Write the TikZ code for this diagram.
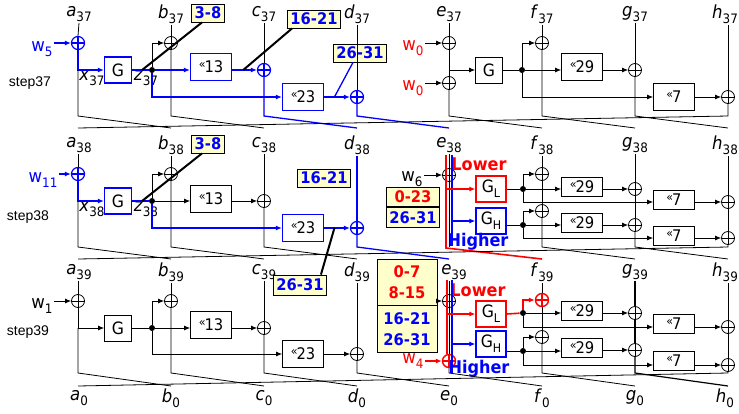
\documentclass[tikz,border=0pt]{standalone}
\usepackage{fontspec}
\setmainfont[FakeStretch=0.92]{DejaVu Sans}
\newfontfamily\stepfont{Liberation Sans}
\usetikzlibrary{arrows.meta,calc}
\definecolor{wblue}{HTML}{0000FF}
\definecolor{wred}{HTML}{FF0000}
\definecolor{tagfill}{HTML}{FFFFCC}
\newcommand{\regname}[2]{\textit{#1}\raisebox{-5pt}{\fontsize{13}{13}\selectfont #2}}
\newcommand{\wname}[1]{w\raisebox{-5pt}{\fontsize{13}{13}\selectfont #1}}
\newcommand{\rotl}[1]{\raisebox{4.5pt}{\fontsize{12}{12}\selectfont «}\kern-1pt#1}
\newcommand{\gname}[1]{G\raisebox{-5pt}{\fontsize{12}{12}\selectfont #1}}
\tikzset{
  xorop/.style={circle, draw=#1, minimum size=13pt, inner sep=0pt,
    path picture={\draw[#1] (path picture bounding box.north) -- (path picture bounding box.south)
      (path picture bounding box.west) -- (path picture bounding box.east);}},
  xorop/.default=black,
  fbox/.style={draw=#1, minimum width=27pt, minimum height=26pt, inner sep=0pt,
    font=\fontsize{17}{17}\selectfont},
  fbox/.default=black,
  halfbox/.style={draw=#1, line width=1.3pt, minimum width=30pt, minimum height=26pt,
    inner sep=0pt, font=\fontsize{17}{17}\selectfont},
  rotbox/.style={draw=#1, minimum width=41pt, minimum height=27pt, inner sep=0pt,
    font=\fontsize{16}{16}\selectfont},
  rotbox/.default=black,
  slim/.style={minimum height=19pt},
  joint/.style={circle, fill=#1, inner sep=0pt, minimum size=6pt},
  joint/.default=black,
  arr/.style={-{Latex[length=6pt,width=5pt]}},
  tag/.style={draw, fill=tagfill, text=wblue, font=\bfseries\fontsize{16}{21}\selectfont,
    inner xsep=3pt, inner ysep=0pt, minimum height=18pt},
  ptr/.style={line width=2pt},
  collab/.style={font=\fontsize{18}{18}\selectfont, inner sep=1pt},
  wlab/.style={font=\fontsize{18}{18}\selectfont, inner sep=1pt},
  steplab/.style={font=\stepfont\fontsize{14}{14}\selectfont},
  blu/.style={draw=wblue, line width=1.3pt},
  rd/.style={draw=wred, line width=1.6pt},
  half/.style={font=\bfseries\fontsize{17.5}{17.5}\selectfont, inner sep=0pt},
}
\begin{document}
\begin{tikzpicture}[x=1pt, y=-1pt, line width=0.8pt]
\useasboundingbox (0,0) rectangle (739,413);
% register columns, bottoms of each step and the ends of the rotation
\foreach \c/\x/\lx in {a/78/79,b/171/171,c/264/264,d/357/357,e/449/449,f/542/542,g/635/635,h/728/725} {
  \node[collab] (\c37) at (\lx,14) {\regname{\c}{37}};
  \node[collab] (\c38) at (\lx,145) {\regname{\c}{38}};
  \node[collab] (\c0) at (\lx,398) {\regname{\c}{0}};
  \coordinate (\c37b) at (\x,116);
  \coordinate (\c38s) at (\x,128);
  \coordinate (\c38b) at (\x,247);
  \coordinate (\c39s) at (\x,259);
  \coordinate (\c39b) at (\x,373);
  \coordinate (\c0s) at (\x,386);
}
\foreach \c/\lx in {a/79,b/171,c/264,d/357,f/542,g/635,h/725}
  \node[collab] (\c39) at (\lx,272) {\regname{\c}{39}};

% ---- step 37 ----
\node[steplab] (s37) at (30,83) {step37};
\node[wlab, text=wblue] (w5) at (42,49) {\wname{5}};
\node[xorop=wblue, line width=1.2pt] (xa37) at (78,43) {};
\node[fbox=wblue, line width=1.2pt] (gfun37) at (118,70) {G};
\node[collab] (x37) at (92,78) {\regname{x}{37}};
\node[collab] (z37) at (146,78) {\regname{z}{37}};
\node[joint] (j37) at (152,70) {};
\node[xorop] (xb37) at (171,43) {};
\node[rotbox=wblue, line width=1.2pt] (r13-37) at (211,67) {\rotl{13}};
\node[xorop=wblue, line width=1.2pt] (xc37) at (264,70) {};
\node[rotbox=wblue, line width=1.2pt] (r23-37) at (303,97) {\rotl{23}};
\node[xorop=wblue, line width=1.2pt] (xd37) at (357,97) {};
\node[tag] (t38-37) at (208,13) {3-8};
\node[tag] (t1621-37) at (314,19) {16-21};
\node[tag] (t2631-37) at (360,53) {26-31};
\draw[blu, arr] (w5.east |- xa37) -- (xa37.west);
\draw (a37.south) -- (xa37.north);
\draw[blu, arr] (xa37.south) |- (gfun37.west);
\draw (xa37 |- gfun37) -- (a37b) -- (b38s);
\draw[blu] (gfun37.east) -- (j37);
\draw[arr] (j37) |- (xb37.west);
\draw (b37.south) -- (xb37.north);
\draw (xb37.south) -- (b37b) -- (c38s);
\draw[blu, arr] (j37) -- (r13-37.west |- j37);
\draw[blu, arr] (r13-37.east |- xc37) -- (xc37.west);
\draw (c37.south) -- (xc37.north);
\draw[blu] (xc37.south) -- (c37b) -- (d38s);
\draw[blu, arr] (j37) |- (r23-37.west);
\draw[blu, arr] (r23-37.east) -- (xd37.west);
\draw (d37.south) -- (xd37.north);
\draw[blu] (xd37.south) -- (d37b) -- (e38s);
\draw[ptr] ([xshift=-6pt]t38-37.south) -- ($(gfun37.east)!0.5!(j37)$);
\draw[ptr] ([xshift=5pt]t1621-37.south west) -- ($(r13-37.east |- xc37)!0.45!(xc37.west)$);
\draw[blu] ([xshift=-7pt]t2631-37.south) -- ($(r23-37.east)!0.4!(xd37.west)$);

\node[wlab, text=wred] (w0a) at (413,48) {\wname{0}};
\node[wlab, text=wred] (w0b) at (413,88) {\wname{0}};
\node[xorop] (xe37a) at (449,43) {};
\node[xorop] (xe37b) at (449,83) {};
\node[fbox] (gfun37r) at (489,70) {G};
\node[joint] (j37r) at (522,70) {};
\node[xorop] (xf37) at (542,43) {};
\node[rotbox] (r29-37) at (582,67) {\rotl{29}};
\node[xorop] (xg37) at (635,70) {};
\node[rotbox] (r7-37) at (674,97) {\rotl{7}};
\node[xorop] (xh37) at (728,97) {};
\draw[arr] (w0a.east |- xe37a) -- (xe37a.west);
\draw[arr] (w0b.east |- xe37b) -- (xe37b.west);
\draw (e37.south) -- (xe37a.north);
\draw (xe37a.south) -- (xe37b.north);
\draw (xe37b.south) -- (e37b) -- (f38s);
\draw[arr] (xe37a |- gfun37r) -- (gfun37r.west);
\draw (gfun37r.east) -- (j37r);
\draw[arr] (j37r) |- (xf37.west);
\draw[arr] (j37r) -- (r29-37.west |- j37r);
\draw[arr] (r29-37.east |- xg37) -- (xg37.west);
\draw[arr] (j37r) |- (r7-37.west);
\draw[arr] (r7-37.east) -- (xh37.west);
\draw (f37.south) -- (xf37.north);
\draw (xf37.south) -- (f37b) -- (g38s);
\draw (g37.south) -- (xg37.north);
\draw (xg37.south) -- (g37b) -- (h38s);
\draw (h37.south -| xh37) -- (xh37.north);
\draw (xh37.south) -- (h37b) -- (a38s);

% ---- step 38 ----
\node[steplab] (s38) at (28,217) {step38};
\node[wlab, text=wblue] (w11) at (43,180) {\wname{11}};
\node[xorop=wblue, line width=1.2pt] (xa38) at (78,174) {};
\node[fbox=wblue, line width=1.2pt] (gfun38) at (118,201) {G};
\node[collab] (x38) at (92,209) {\regname{x}{38}};
\node[collab] (z38) at (146,209) {\regname{z}{38}};
\node[joint] (j38) at (152,201) {};
\node[xorop] (xb38) at (171,174) {};
\node[rotbox] (r13-38) at (211,199) {\rotl{13}};
\node[xorop] (xc38) at (264,201) {};
\node[rotbox=wblue, line width=1.2pt] (r23-38) at (303,228) {\rotl{23}};
\node[xorop=wblue, line width=1.2pt] (xd38) at (357,228) {};
\node[tag] (t38-38) at (208,144) {3-8};
\node[tag] (t1621-38) at (324,178) {16-21};
\draw[blu, arr] (w11.east |- xa38) -- (xa38.west);
\draw (a38.south -| xa38) -- (xa38.north);
\draw[blu, arr] (xa38.south) |- (gfun38.west);
\draw (xa38 |- gfun38) -- (a38b) -- (b39s);
\draw[blu] (gfun38.east) -- (j38);
\draw[arr] (j38) |- (xb38.west);
\draw (b38.south) -- (xb38.north);
\draw (xb38.south) -- (b38b) -- (c39s);
\draw[arr] (j38) -- (r13-38.west |- j38);
\draw[arr] (r13-38.east |- xc38) -- (xc38.west);
\draw (c38.south) -- (xc38.north);
\draw (xc38.south) -- (c38b) -- (d39s);
\draw[blu, arr] (j38) |- (r23-38.west);
\draw[blu, arr] (r23-38.east) -- (xd38.west);
\draw[blu] (d38.south) -- (xd38.north);
\draw[blu] (xd38.south) -- (d38b) -- (e39s);
\draw[ptr] ([xshift=-6pt]t38-38.south) -- ($(gfun38.east)!0.5!(j38)$);

\node[wlab] (w6) at (412,179) {\wname{6}};
\node[xorop] (xe38) at (449,175) {};
\node[tag, text=wred, minimum width=53pt, minimum height=19.5pt] (tl38) at (413,197) {0-23};
\node[tag, minimum width=53pt, minimum height=19.5pt, anchor=north] (th38) at (tl38.south) {26-31};
\coordinate (lo38t) at (446,155);
\coordinate (lo38b) at (446,248);
\coordinate (hi38t) at (452,155);
\coordinate (hi38b) at (452,246);
\node[half, text=wred] (lower38) at (479,164) {Lower};
\node[half, text=wblue] (higher38) at (478,242) {Higher};
\node[halfbox=wred] (gl38) at (491,189) {\gname{L}};
\node[halfbox=wblue] (gh38) at (491,221) {\gname{H}};
\draw[arr] (w6.east |- xe38) -- (xe38.west);
\draw (e38.south) -- (xe38.north);
\draw (xe38.south) -- (e38b);
\draw[rd] (lo38t) -- (lo38b) -- (f39s);
\draw[blu] (hi38t) -- (hi38b);
\draw[rd, arr] (lo38t |- gl38) -- (gl38.west);
\draw[blu, arr] (hi38t |- gh38) -- (gh38.west);
\node[joint] (jl38) at (523,189) {};
\node[joint] (jh38) at (523,225) {};
\node[xorop] (xf38a) at (542,174) {};
\node[xorop] (xf38b) at (542,211) {};
\node[rotbox, slim] (r29L-38) at (582,187) {\rotl{29}};
\node[rotbox, slim] (r29H-38) at (582,223) {\rotl{29}};
\node[xorop] (xg38a) at (635,189) {};
\node[xorop] (xg38b) at (635,225) {};
\node[rotbox, slim] (r7L-38) at (674,200) {\rotl{7}};
\node[rotbox, slim] (r7H-38) at (674,236) {\rotl{7}};
\node[xorop] (xh38a) at (728,202) {};
\node[xorop] (xh38b) at (728,238) {};
\draw (gl38.east) -- (jl38);
\draw (gh38.east |- jh38) -- (jh38);
\draw[arr] (jl38) |- (xf38a.west);
\draw[arr] (jh38) |- (xf38b.west);
\draw[arr] (jl38) -- (r29L-38.west |- jl38);
\draw[arr] (jh38) -- (r29H-38.west |- jh38);
\draw[arr] (r29L-38.east |- xg38a) -- (xg38a.west);
\draw[arr] (r29H-38.east |- xg38b) -- (xg38b.west);
\draw[arr] (jl38) |- (r7L-38.west |- xh38a);
\draw[arr] (jh38) |- (r7H-38.west |- xh38b);
\draw[arr] (r7L-38.east |- xh38a) -- (xh38a.west);
\draw[arr] (r7H-38.east |- xh38b) -- (xh38b.west);
\draw (f38.south) -- (xf38a.north);
\draw (xf38a.south) -- (xf38b.north);
\draw (xf38b.south) -- (f38b) -- (g39s);
\draw (g38.south) -- (xg38a.north);
\draw (xg38a.south) -- (xg38b.north);
\draw (xg38b.south) -- (g38b) -- (h39s);
\draw (h38.south -| xh38a) -- (xh38a.north);
\draw (xh38a.south) -- (xh38b.north);
\draw (xh38b.south) -- (h38b) -- (a39s);

% ---- step 39 ----
\node[steplab] (s39) at (28,332) {step39};
\node[wlab] (w1) at (42,306) {\wname{1}};
\node[xorop] (xa39) at (78,301) {};
\node[fbox] (gfun39) at (118,328) {G};
\node[joint] (j39) at (152,328) {};
\node[xorop] (xb39) at (171,301) {};
\node[rotbox] (r13-39) at (211,325) {\rotl{13}};
\node[xorop] (xc39) at (264,328) {};
\node[rotbox] (r23-39) at (303,354) {\rotl{23}};
\node[xorop] (xd39) at (357,354) {};
\node[tag, minimum height=20pt] (t2631-39) at (300,285) {26-31};
\draw[ptr] ($(r23-38.east)!0.4!(xd38.west)$) -- ([xshift=-6pt]t2631-39.north east);
\draw[arr] (w1.east |- xa39) -- (xa39.west);
\draw (a39.south -| xa39) -- (xa39.north);
\draw[arr] (xa39.south) |- (gfun39.west);
\draw (xa39 |- gfun39) -- (a39b) -- (b0s);
\draw (gfun39.east) -- (j39);
\draw[arr] (j39) |- (xb39.west);
\draw (b39.south) -- (xb39.north);
\draw (xb39.south) -- (b39b) -- (c0s);
\draw[arr] (j39) -- (r13-39.west |- j39);
\draw[arr] (r13-39.east |- xc39) -- (xc39.west);
\draw (c39.south) -- (xc39.north);
\draw (xc39.south) -- (c39b) -- (d0s);
\draw[arr] (j39) |- (r23-39.west);
\draw[arr] (r23-39.east) -- (xd39.west);
\draw (d39.south) -- (xd39.north);
\draw (xd39.south) -- (d39b) -- (e0s);

\node[tag, text=wred, minimum width=60pt, minimum height=46pt, align=center] (tl39) at (407,282) {0-7\\8-15};
\node[tag, minimum width=60pt, minimum height=47pt, align=center, anchor=north] (th39) at (tl39.south) {16-21\\26-31};
\node[collab] (e39) at (454,272) {\regname{e}{39}};
\node[xorop] (xe39) at (449,301) {};
\node[xorop=wred, line width=1.4pt] (xe39b) at (449,361) {};
\node[wlab, text=wred] (w4) at (413,361) {\wname{4}};
\coordinate (lo39t) at (447,280);
\coordinate (hi39t) at (452,280);
\coordinate (hi39b) at (452,373);
\node[half, text=wred] (lower39) at (478,290) {Lower};
\node[half, text=wblue] (higher39) at (479,369) {Higher};
\node[halfbox=wred] (gl39) at (491,314) {\gname{L}};
\node[halfbox=wblue] (gh39) at (491,344) {\gname{H}};
\draw[arr] (tl39.east |- xe39) -- (xe39.west);
\draw (e39.south -| xe39) -- (xe39.north);
\draw (xe39.south) -- (xe39b.north);
\draw (xe39b.south) -- (e39b) -- (f0s);
\draw[rd] (lo39t) -- (lo39t |- xe39b.north);
\draw[blu] (hi39t) -- (hi39b);
\draw[rd, arr] (lo39t |- gl39) -- (gl39.west);
\draw[blu, arr] (hi39t |- gh39) -- (gh39.west);
\draw[rd, arr] (w4.east |- xe39b) -- (xe39b.west);
\node[joint] (jl39) at (523,313) {};
\node[joint] (jh39) at (523,351) {};
\node[xorop=wred, line width=1.4pt] (xf39a) at (542,300) {};
\node[xorop] (xf39b) at (542,337) {};
\node[rotbox, slim] (r29L-39) at (582,311) {\rotl{29}};
\node[rotbox, slim] (r29H-39) at (582,348) {\rotl{29}};
\node[xorop] (xg39a) at (635,313) {};
\node[xorop] (xg39b) at (635,350) {};
\node[rotbox, slim] (r7L-39) at (674,324) {\rotl{7}};
\node[rotbox, slim] (r7H-39) at (674,361) {\rotl{7}};
\node[xorop] (xh39a) at (728,327) {};
\node[xorop] (xh39b) at (728,365) {};
\draw[rd] (gl39.east) -- (jl39);
\draw[rd, arr] (jl39) |- (xf39a.west);
\draw (gh39.east |- jh39) -- (jh39);
\draw[arr] (jh39) |- (xf39b.west);
\draw[arr] (jl39) -- (r29L-39.west |- jl39);
\draw[arr] (jh39) -- (r29H-39.west |- jh39);
\draw[arr] (r29L-39.east |- xg39a) -- (xg39a.west);
\draw[arr] (r29H-39.east |- xg39b) -- (xg39b.west);
\draw[arr] (jl39) |- (r7L-39.west |- xh39a);
\draw[arr] (jh39) |- (r7H-39.west |- xh39b);
\draw[arr] (r7L-39.east |- xh39a) -- (xh39a.west);
\draw[arr] (r7H-39.east |- xh39b) -- (xh39b.west);
\draw (f39.south) -- (xf39a.north);
\draw (xf39a.south) -- (xf39b.north);
\draw (xf39b.south) -- (f39b) -- (g0s);
\draw[line width=1.2pt] (g39.south) -- (xg39a.north);
\draw[line width=1.2pt] (xg39a.south) -- (xg39b.north);
\draw[line width=1.2pt] (xg39b.south) -- (g39b) -- (h0s);
\draw (h39.south -| xh39a) -- (xh39a.north);
\draw (xh39a.south) -- (xh39b.north);
\draw (xh39b.south) -- (h39b) -- (a0s);
\end{tikzpicture}
\end{document}
